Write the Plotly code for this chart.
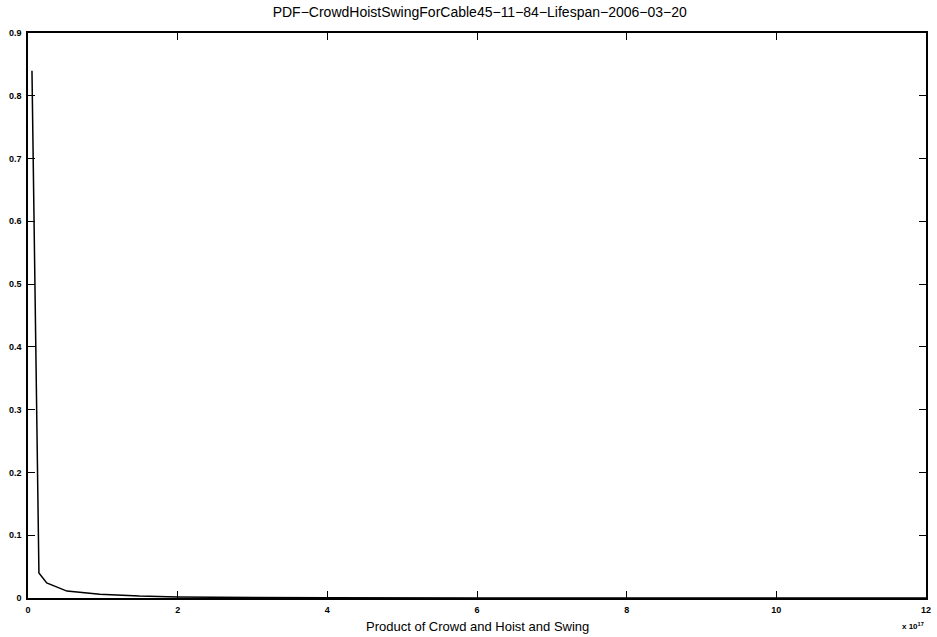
import plotly.graph_objects as go

# Product of crowd, hoist and swing (units of 1e17) and its estimated density
x_e17 = [0.053, 0.146, 0.25, 0.52, 0.96, 1.49, 2.0, 2.95, 4.0, 6.0, 8.0, 10.0, 12.0]
pdf = [0.84, 0.040, 0.024, 0.011, 0.006, 0.003, 0.0015, 0.0005, 0.0002, 0.0001, 0.00005, 0.00002, 0.0]

x_ticks = [0, 2, 4, 6, 8, 10, 12]
y_ticks = [0, 0.1, 0.2, 0.3, 0.4, 0.5, 0.6, 0.7, 0.8, 0.9]
y_tick_labels = ["0", "0.1", "0.2", "0.3", "0.4", "0.5", "0.6", "0.7", "0.8", "0.9"]

title_text = "PDF\u2212CrowdHoistSwingForCable45\u221211\u221284\u2212Lifespan\u22122006\u221203\u221220"
xlabel_text = "Product of Crowd and Hoist and Swing"

font_family = "Liberation Sans, Arial, Helvetica, sans-serif"

fig = go.Figure()
fig.add_trace(go.Scatter(
    x=x_e17, y=pdf, mode="lines",
    line=dict(color="black", width=1.5),
    showlegend=False,
))

axis_common = dict(
    showgrid=False, zeroline=False,
    showline=True, linecolor="black", linewidth=1.5, mirror="ticks",
    ticks="inside", ticklen=7, tickwidth=1, tickcolor="black",
    tickfont=dict(family=font_family, size=9, color="black", weight="bold"),
)

fig.update_layout(
    width=937, height=637,
    margin=dict(l=28, r=6, t=33, b=39),
    paper_bgcolor="white", plot_bgcolor="white",
    title=dict(text=title_text, x=0.512, xanchor="center", y=0.981, yanchor="middle",
               font=dict(family=font_family, size=14, color="black")),
    xaxis=dict(range=[0, 12], tickvals=x_ticks, ticktext=[str(v) for v in x_ticks],
               ticklabelstandoff=2, **axis_common),
    yaxis=dict(range=[0, 0.9], tickvals=y_ticks, ticktext=y_tick_labels,
               ticklabelstandoff=3, **axis_common),
    annotations=[
        dict(text=xlabel_text, xref="paper", yref="paper", x=0.5, y=-0.0496,
             xanchor="center", yanchor="middle", showarrow=False,
             font=dict(family=font_family, size=13, color="black")),
        dict(text="x 10<sup>17</sup>", xref="paper", yref="paper", x=1.0, y=-0.037,
             xanchor="right", yanchor="top", showarrow=False,
             font=dict(family=font_family, size=8, color="black", weight="bold")),
    ],
)

fig.write_html("out.html")
